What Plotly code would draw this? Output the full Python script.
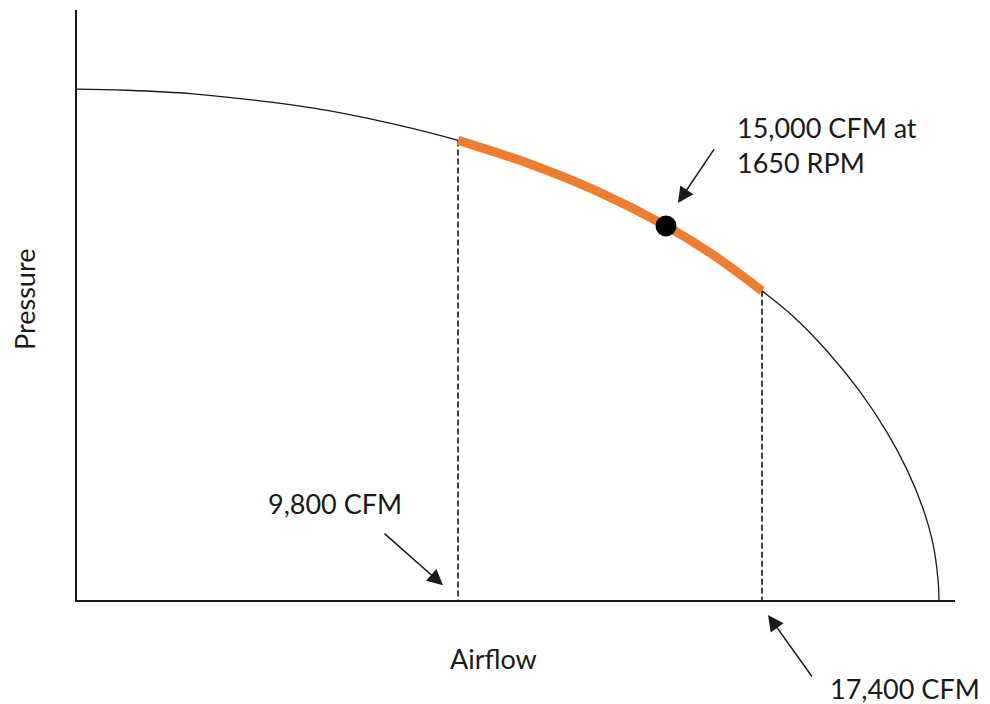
import plotly.graph_objects as go

# Fan curve (airflow in CFM, pressure in arbitrary units)
airflow = [0, 275, 1525, 3175, 4850, 6525, 8175, 9800, 11600, 13275, 15000, 16175, 17400,
           18175, 19025, 19850, 20525, 21025, 21425, 21675, 21800, 21825]
pressure = [86.6, 86.6, 86.4, 85.8, 84.6, 83.0, 80.7, 77.9, 73.9, 69.3, 63.4, 58.5, 52.4,
            48.1, 42.2, 35.3, 28.4, 22.1, 15.5, 9.5, 3.5, 0.0]

# Operating range and design point
range_lo = 9800
range_hi = 17400
design_cfm = 15000
design_label = "15,000 CFM at<br>1650 RPM"
lo_label = "9,800 CFM"
hi_label = "17,400 CFM"
x_title = "Airflow"
y_title = "Pressure"

FONT = "Lato, 'Open Sans', sans-serif"
TXT = "#1a1a1a"

def p_at(x):
    for i in range(len(airflow) - 1):
        if airflow[i] <= x <= airflow[i + 1]:
            t = (x - airflow[i]) / (airflow[i + 1] - airflow[i])
            return pressure[i] + t * (pressure[i + 1] - pressure[i])
    return 0

seg_x = [x for x in airflow if range_lo <= x <= range_hi]
seg_y = [p_at(x) for x in seg_x]

fig = go.Figure()
fig.add_trace(go.Scatter(x=airflow, y=pressure, mode="lines",
                         line=dict(color="#1a1a1a", width=1.3, shape="spline", smoothing=1.0),
                         hoverinfo="skip"))
for xv in (range_lo, range_hi):
    fig.add_trace(go.Scatter(x=[xv, xv], y=[p_at(xv), 0], mode="lines",
                             line=dict(color="#000", width=1.5, dash="6px,3px"), hoverinfo="skip"))
fig.add_trace(go.Scatter(x=seg_x, y=seg_y, mode="lines",
                         line=dict(color="#ED7D31", width=9, shape="spline", smoothing=1.0),
                         hoverinfo="skip"))
fig.add_trace(go.Scatter(x=[design_cfm], y=[p_at(design_cfm)], mode="markers",
                         marker=dict(color="black", size=21), hoverinfo="skip"))

arrow = dict(showarrow=True, arrowhead=2, arrowsize=2.1, arrowwidth=1.5, arrowcolor="#1a1a1a", text="")
fig.add_annotation(x=15300, y=67.3, ax=37, ay=-55, **arrow)
fig.add_annotation(x=9425, y=2.5, ax=-60, ay=-53, **arrow)
fig.add_annotation(x=(768 - 77) / 878, y=(600 - 615) / 590, xref="paper", yref="paper",
                   ax=45, ay=63, **arrow)

tfont = dict(family=FONT, size=27, color=TXT)
lbl = dict(xref="paper", yref="paper", showarrow=False, font=tfont)
fig.add_annotation(x=(735 - 77) / 878, y=(600 - 145) / 590, text=design_label,
                   xanchor="left", yanchor="middle", align="left", **lbl)
fig.add_annotation(x=(335 - 77) / 878, y=(600 - 503) / 590, text=lo_label,
                   xanchor="center", yanchor="middle", **lbl)
fig.add_annotation(x=(905 - 77) / 878, y=(600 - 688) / 590, text=hi_label,
                   xanchor="center", yanchor="middle", **lbl)
fig.add_annotation(x=(493 - 77) / 878, y=(600 - 658) / 590, text=x_title,
                   xanchor="center", yanchor="middle", **lbl)
fig.add_annotation(x=(24 - 77) / 878, y=(600 - 300) / 590, text=y_title, textangle=-90,
                   xanchor="center", yanchor="middle", **lbl)

# the page body adds an 8px offset, so the figure is shrunk and margins shifted to compensate
fig.update_layout(
    width=982, height=696,
    margin=dict(l=69, r=35, t=2, b=104),
    paper_bgcolor="white", plot_bgcolor="white",
    showlegend=False,
    xaxis=dict(range=[275, 22225], showgrid=False, zeroline=False, showticklabels=False,
               ticks="", showline=True, linecolor="#1a1a1a", linewidth=1.5),
    yaxis=dict(range=[0, 100], showgrid=False, zeroline=False, showticklabels=False,
               ticks="", showline=True, linecolor="#1a1a1a", linewidth=1.5),
)
fig.write_html("out.html")
